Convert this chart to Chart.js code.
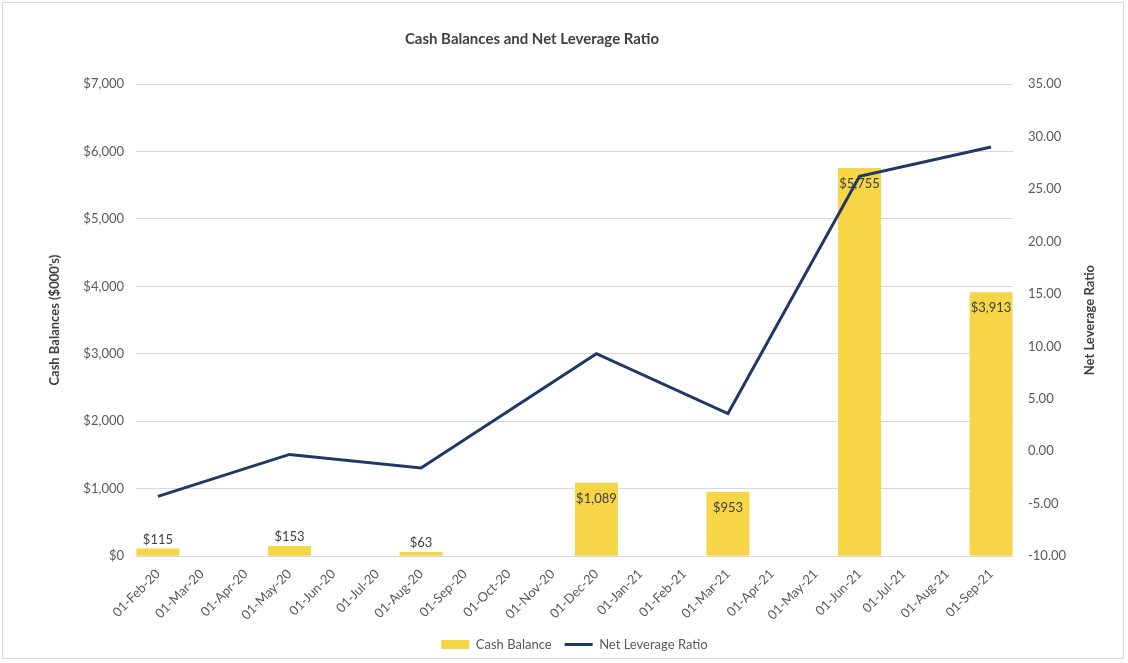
<!DOCTYPE html>
<html>
<head>
<meta charset="utf-8">
<script src="https://cdn.jsdelivr.net/npm/chart.js@4.4.1/dist/chart.umd.min.js"></script>
<style>
html,body{margin:0;padding:0;background:#fff;}
#wrap{position:absolute;left:2px;top:2px;width:1122px;height:657px;border:1px solid #d9d9d9;box-sizing:border-box;}
#c{position:absolute;left:0;top:0;}
</style>
</head>
<body>
<div id="wrap"></div>
<canvas id="c" width="1128" height="663"></canvas>
<script>
const categories = ["01-Feb-20","01-Mar-20","01-Apr-20","01-May-20","01-Jun-20","01-Jul-20","01-Aug-20","01-Sep-20","01-Oct-20","01-Nov-20","01-Dec-20","01-Jan-21","01-Feb-21","01-Mar-21","01-Apr-21","01-May-21","01-Jun-21","01-Jul-21","01-Aug-21","01-Sep-21"];
const cashBalance = [115,null,null,153,null,null,63,null,null,null,1089,null,null,953,null,null,5755,null,null,3913];
const netLeverage = [-4.3,null,null,-0.3,null,null,-1.6,null,null,null,9.3,null,null,3.6,null,null,26.2,null,null,29.0];
const leftTicks = {min:0, max:7000, step:1000};
const rightTicks = {min:-10, max:35, step:5};
const chartTitle = 'Cash Balances and Net Leverage Ratio';
const rightTitle = 'Net Leverage Ratio';

const FONT = "Lato, 'Open Sans', sans-serif";
const TXT = '#595959';

const labelPlugin = {
  id:'barLabels',
  afterDatasetDraw(chart, args){
    if (args.index !== 1) return;
    const ctx = chart.ctx;
    const meta = chart.getDatasetMeta(1);
    ctx.save();
    ctx.font = "13px " + FONT;
    ctx.fillStyle = '#404040';
    ctx.textAlign = 'center';
    ctx.textBaseline = 'middle';
    meta.data.forEach((el,i)=>{
      const v = cashBalance[i];
      if (v === null || v === undefined) return;
      const txt = '$' + v.toLocaleString('en-US');
      const h = el.base - el.y;
      const y = h > 30 ? el.y + 16 : el.y - 9;
      ctx.fillText(txt, el.x, y);
    });
    ctx.restore();
  },
  afterDraw(chart){
    const ctx = chart.ctx;
    const s = chart.scales.y1;
    ctx.save();
    ctx.font = "bold 15px " + FONT;
    ctx.fillStyle = '#404040';
    ctx.textAlign = 'center';
    ctx.textBaseline = 'middle';
    ctx.fillText(chartTitle, 532, 39);
    ctx.font = "bold 13px " + FONT;
    ctx.translate(s.right - 16, (s.top + s.bottom)/2);
    ctx.rotate(-Math.PI/2);
    ctx.fillText(rightTitle, 0, 0);
    ctx.restore();
  }
};

new Chart(document.getElementById('c'), {
  data:{
    labels: categories,
    datasets:[
      {type:'line', label:'Net Leverage Ratio', data:netLeverage, yAxisID:'y1', borderColor:'#1f3864', backgroundColor:'#1f3864', borderWidth:3, pointRadius:0, spanGaps:true, tension:0, order:0, pointStyle:'line'},
      {type:'bar', label:'Cash Balance', data:cashBalance, yAxisID:'y', backgroundColor:'#f6d547', borderWidth:0, barPercentage:1, categoryPercentage:0.98, order:1, pointStyle:'rect'}
    ]
  },
  options:{
    responsive:false,
    animation:false,
    layout:{padding:{left:43,right:22,top:84,bottom:2}},
    plugins:{
      title:{display:false},
      legend:{position:'bottom', reverse:true, labels:{usePointStyle:true, pointStyleWidth:28, boxHeight:9, color:TXT, font:{family:FONT,size:13}, padding:13}},
      tooltip:{enabled:false}
    },
    scales:{
      x:{grid:{display:false}, border:{display:false}, ticks:{color:TXT, font:{family:FONT,size:13}, minRotation:45, maxRotation:45, autoSkip:false, padding:2}},
      y:{position:'left', min:leftTicks.min, max:leftTicks.max, grid:{color:'#d9d9d9', drawTicks:false}, border:{display:false},
         ticks:{stepSize:leftTicks.step, color:TXT, font:{family:FONT,size:13}, padding:12, callback:v=>'$'+Number(v).toLocaleString('en-US')},
         title:{display:true, text:"Cash Balances ($000's)", color:'#404040', font:{family:FONT,size:13,weight:'bold'}, padding:{bottom:16}},
         afterFit(s){s.width=93;}},
      y1:{position:'right', min:rightTicks.min, max:rightTicks.max, grid:{display:false, drawTicks:false}, border:{display:false},
         ticks:{stepSize:rightTicks.step, color:TXT, font:{family:FONT,size:13}, padding:15, callback:v=>Number(v).toFixed(2)},
         afterFit(s){s.width=93;}}
    }
  },
  plugins:[labelPlugin]
});
</script>
</body>
</html>
